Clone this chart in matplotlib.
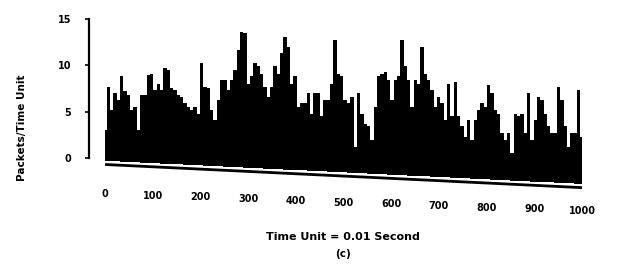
import numpy as np
import matplotlib
matplotlib.use("Agg")
import matplotlib.pyplot as plt
from matplotlib.transforms import ScaledTranslation

# packet counts, one value per ~7 time units
packets = [3.0, 7.7, 5.2, 7.0, 6.3, 8.8, 7.2, 6.8, 5.2, 5.5,
           3.0, 6.8, 6.8, 9.0, 9.1, 7.3, 8.0, 7.3, 9.7, 9.5,
           7.5, 7.3, 6.8, 6.6, 5.9, 5.5, 5.2, 5.5, 4.8, 10.2,
           7.7, 7.5, 5.2, 4.1, 6.3, 8.4, 8.4, 7.3, 8.4, 9.5,
           11.7, 13.6, 13.5, 8.0, 8.8, 10.2, 9.9, 9.1, 7.7, 6.6,
           7.7, 9.9, 9.1, 11.3, 13.1, 12.0, 8.0, 8.8, 5.5, 5.9,
           5.9, 7.0, 4.8, 7.0, 7.0, 4.5, 6.3, 6.3, 8.0, 12.7,
           9.1, 8.8, 6.3, 5.9, 6.6, 1.2, 7.0, 4.8, 3.7, 3.4,
           1.9, 5.5, 8.8, 9.1, 9.3, 8.4, 6.3, 8.4, 8.8, 12.7,
           9.9, 8.4, 5.5, 8.4, 8.0, 12.0, 9.1, 8.4, 7.3, 5.5,
           6.6, 5.9, 4.1, 8.0, 4.5, 8.2, 4.5, 3.4, 2.3, 4.1,
           1.9, 4.1, 5.2, 5.9, 5.5, 7.9, 7.0, 5.2, 4.8, 2.7,
           1.9, 2.7, 0.5, 4.8, 4.5, 4.8, 2.7, 7.0, 1.9, 4.1,
           6.6, 6.3, 4.8, 3.4, 2.7, 2.7, 7.7, 6.3, 3.4, 1.2,
           2.7, 2.7, 7.3, 2.3]
x_ticks = [0, 100, 200, 300, 400, 500, 600, 700, 800, 900, 1000]
y_ticks = [0, 5, 10, 15]

vals = np.array(packets)
t = np.linspace(0, 1000, len(vals))

# the scan is slightly skewed: the base line drops towards the right
skew = 2.5
base = -0.3 - skew * t / 1000

fig = plt.figure(figsize=(6.21, 2.64), dpi=100)
ax = fig.add_axes([89 / 621, 1 - 192 / 264, (600 - 89) / 621, (192 - 19) / 264])

ax.fill_between(t, vals, base, step="mid", color="black", linewidth=0)
ax.plot(t, base - 0.4, color="black", linewidth=2.0, solid_capstyle="butt")

ax.set_xlim(-33.5, 1037.7)
ax.set_ylim(-3.67, 15)

for s in ["top", "right", "bottom"]:
    ax.spines[s].set_visible(False)
ax.spines["left"].set_bounds(0, 15)
ax.spines["left"].set_linewidth(1.6)

ax.set_yticks(y_ticks)
ax.set_yticklabels([str(v) for v in y_ticks], fontsize=7, fontweight="bold")
ax.tick_params(axis="y", length=3, width=1.2, pad=10)
ax.set_xticks(x_ticks)
ax.set_xticklabels([str(v) for v in x_ticks], fontsize=7, fontweight="bold")
ax.tick_params(axis="x", length=0, pad=0)
# tick labels follow the skew of the scan too
for tick, lab in zip(x_ticks, ax.get_xticklabels()):
    dy = 3 - 17 * tick / 1000
    lab.set_transform(lab.get_transform() + ScaledTranslation(0, dy / 100, fig.dpi_scale_trans))

fig.text(22 / 621, 1 - 128 / 264, "Packets/Time Unit", rotation=90,
         ha="center", va="center", fontsize=7.5, fontweight="bold")
fig.text(343 / 621, 1 - 237 / 264, "Time Unit = 0.01 Second",
         ha="center", va="center", fontsize=8, fontweight="bold")
fig.text(343 / 621, 1 - 254 / 264, "(c)",
         ha="center", va="center", fontsize=7.5, fontweight="bold")

fig.savefig("out.png", dpi=100)
